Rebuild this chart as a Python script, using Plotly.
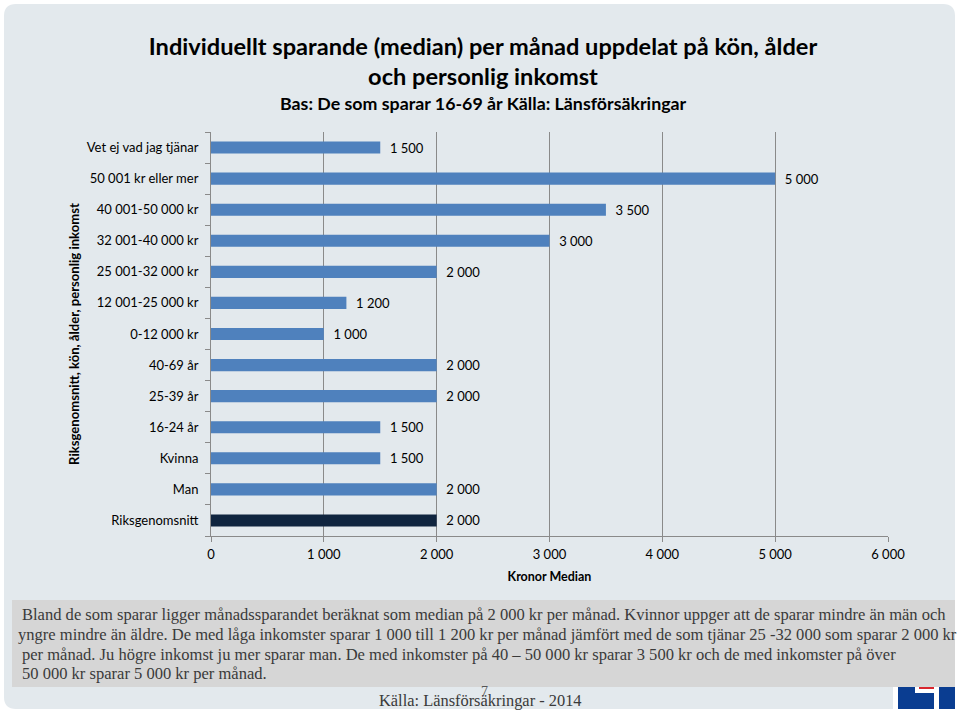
import plotly.graph_objects as go

categories = ["Vet ej vad jag tjänar", "50 001 kr eller mer", "40 001-50 000 kr", "32 001-40 000 kr",
              "25 001-32 000 kr", "12 001-25 000 kr", "0-12 000 kr", "40-69 år", "25-39 år", "16-24 år",
              "Kvinna", "Man", "Riksgenomsnitt"]
values = [1500, 5000, 3500, 3000, 2000, 1200, 1000, 2000, 2000, 1500, 1500, 2000, 2000]
bar_colors = ["#4F81BD"] * 12 + ["#10253F"]
x_ticks = [0, 1000, 2000, 3000, 4000, 5000, 6000]
body_lines = [
    "Bland de som sparar ligger månadssparandet beräknat som median på 2 000 kr per månad. Kvinnor uppger att de sparar mindre än män och",
    "yngre mindre än äldre. De med låga inkomster sparar 1 000 till 1 200 kr per månad jämfört med de som tjänar 25 -32 000 som sparar 2 000 kr",
    "per månad. Ju högre inkomst ju mer sparar man. De med inkomster på 40 – 50 000 kr sparar 3 500 kr och de med inkomster på över",
    "50 000 kr sparar 5 000 kr per månad.",
]
body_x = [20, 16, 20, 20]
body_y = [614, 634, 654, 673]

W, H = 959, 714
L, R, T, B = 211, 888, 132, 536
SANS = "Lato, 'Open Sans', sans-serif"
SERIF = "'Liberation Serif', serif"


def px(x):
    return (x - L) / (R - L)


def py(y):
    return (B - y) / (B - T)


def rect(x0, y0, x1, y1, color):
    return dict(type="rect", xref="paper", yref="paper", layer="below", x0=px(x0), x1=px(x1),
                y0=py(y0), y1=py(y1), fillcolor=color, line_width=0)


def note(x, y, text, size, color="#000000", font=SANS, anchor="left", **kw):
    return dict(xref="paper", yref="paper", x=px(x), y=py(y), text=text, showarrow=False, xanchor=anchor,
                yanchor="middle", font=dict(family=font, size=size, color=color), **kw)


fig = go.Figure(go.Bar(
    y=categories, x=values, orientation="h", marker=dict(color=bar_colors, line_width=0),
    texttemplate="\u00a0\u00a0%{x:,}", textposition="outside", cliponaxis=False, constraintext="none",
    textfont=dict(family=SANS, size=13, color="#000000"), width=0.39,
))

r = 12
panel = (f"M {px(4+r)} {py(4)} L {px(955-r)} {py(4)} Q {px(955)} {py(4)} {px(955)} {py(4+r)} "
         f"L {px(955)} {py(709-r)} Q {px(955)} {py(709)} {px(955-r)} {py(709)} "
         f"L {px(4+r)} {py(709)} Q {px(4)} {py(709)} {px(4)} {py(709-r)} "
         f"L {px(4)} {py(4+r)} Q {px(4)} {py(4)} {px(4+r)} {py(4)} Z")

shapes = [
    dict(type="path", xref="paper", yref="paper", layer="below", path=panel, fillcolor="#E3E9ED", line_width=0),
    rect(12, 600, 955, 687, "#D6D6D6"),
    rect(893, 687, 959, 714, "#FFFFFF"),
    rect(898, 687, 934, 709, "#0A3D91"),
    rect(939, 687, 955, 709, "#0A3D91"),
    rect(915, 687, 934, 693, "#FFFFFF"),
    rect(919, 687, 934, 689, "#D8262E"),
]

annotations = [note(x, y, t, 16.55, "#3A3A3A", SERIF) for x, y, t in zip(body_x, body_y, body_lines)]
annotations += [
    note(483, 103, "<b>Bas: De som sparar 16-69 år Källa: Länsförsäkringar</b>", 17.8, anchor="center"),
    note(484, 691, "7", 14, "#555555", SERIF, anchor="center"),
    note(480, 700, "Källa: Länsförsäkringar - 2014", 16.4, "#3A3A3A", SERIF, anchor="center"),
]

fig.update_layout(
    width=W, height=H, autosize=False,
    margin=dict(l=L, r=W - R, t=T, b=H - B, pad=0),
    paper_bgcolor="#FFFFFF", plot_bgcolor="rgba(0,0,0,0)",
    separators=", ", showlegend=False,
    font=dict(family=SANS, size=13, color="#000000"),
    title=dict(text="<b>Individuellt sparande (median) per månad uppdelat på kön, ålder<br>och personlig inkomst</b>",
               x=483 / W, xanchor="center", y=1 - 54.5 / H, yanchor="middle", font=dict(family=SANS, size=23.6, color="#000000")),
    shapes=shapes, annotations=annotations,
    xaxis=dict(range=[0, 6000], tickvals=x_ticks, tickformat=",", showgrid=True, gridcolor="#8A8A8A", gridwidth=1,
               showline=True, linecolor="#8A8A8A", ticks="outside", ticklen=5, tickcolor="#8A8A8A",
               tickfont=dict(family=SANS, size=13), zeroline=False, ticklabelstandoff=1,
               title=dict(text="<b>Kronor Median</b>", font=dict(family=SANS, size=12.5), standoff=11)),
    yaxis=dict(categoryorder="array", categoryarray=categories[::-1], tickson="boundaries", ticks="outside", ticklen=5,
               tickcolor="#8A8A8A", showline=True, linecolor="#8A8A8A", showgrid=False, zeroline=False,
               tickfont=dict(family=SANS, size=13), ticklabelstandoff=9,
               title=dict(text="<b>Riksgenomsnitt, kön, ålder, personlig inkomst</b>", font=dict(family=SANS, size=13.1), standoff=4)),
)
fig.write_html("out.html", config={"displayModeBar": False},
               post_script="document.body.style.margin='0';document.body.style.overflow='hidden';")
